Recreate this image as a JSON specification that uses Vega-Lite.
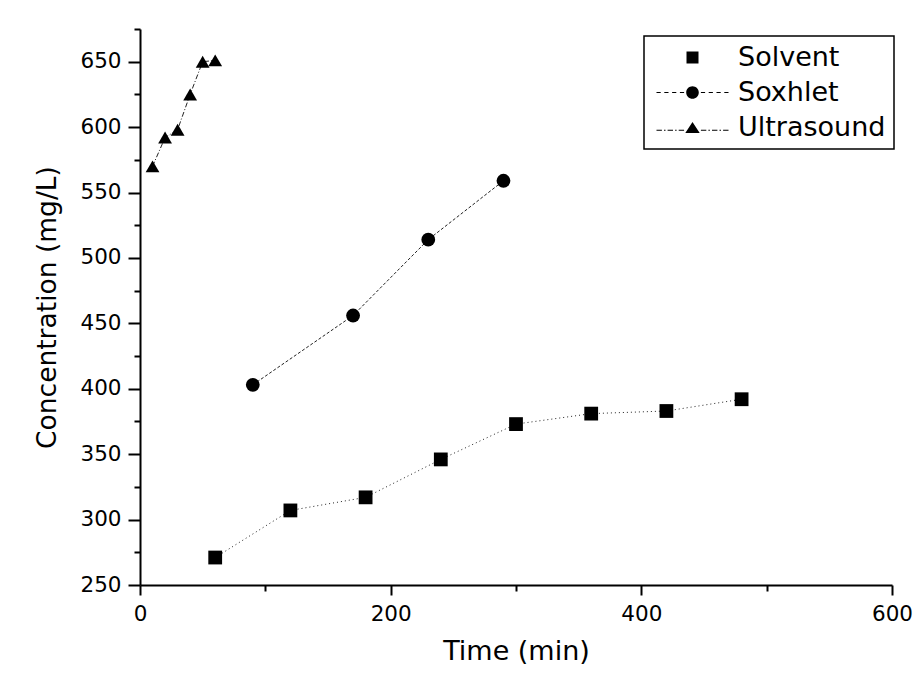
{
  "$schema": "https://vega.github.io/schema/vega-lite/v6.json",
  "width": 752,
  "height": 556,
  "autosize": {"type": "none"},
  "padding": {"left": 140, "top": 29, "right": 22, "bottom": 92},
  "background": "white",
  "config": {
    "view": {"stroke": null},
    "font": "DejaVu Sans",
    "legend": {"strokeWidth": 1.5},
    "axis": {
      "grid": false,
      "domainColor": "black",
      "domainWidth": 2,
      "tickColor": "black",
      "tickWidth": 2,
      "labelColor": "black",
      "titleColor": "black",
      "titleFontWeight": "normal",
      "labelFont": "DejaVu Sans",
      "titleFont": "DejaVu Sans",
      "labelFlush": false,
      "labelOverlap": false,
      "labelBound": false
    }
  },
  "data": {
    "values": [
      {"time": 60, "conc": 271, "method": "Solvent"},
      {"time": 120, "conc": 307, "method": "Solvent"},
      {"time": 180, "conc": 317, "method": "Solvent"},
      {"time": 240, "conc": 346, "method": "Solvent"},
      {"time": 300, "conc": 373, "method": "Solvent"},
      {"time": 360, "conc": 381, "method": "Solvent"},
      {"time": 420, "conc": 383, "method": "Solvent"},
      {"time": 480, "conc": 392, "method": "Solvent"},
      {"time": 90, "conc": 403, "method": "Soxhlet"},
      {"time": 170, "conc": 456, "method": "Soxhlet"},
      {"time": 230, "conc": 514, "method": "Soxhlet"},
      {"time": 290, "conc": 559, "method": "Soxhlet"},
      {"time": 10, "conc": 570, "method": "Ultrasound"},
      {"time": 20, "conc": 592, "method": "Ultrasound"},
      {"time": 30, "conc": 598, "method": "Ultrasound"},
      {"time": 40, "conc": 625, "method": "Ultrasound"},
      {"time": 50, "conc": 650, "method": "Ultrasound"},
      {"time": 60, "conc": 651, "method": "Ultrasound"}
    ]
  },
  "layer": [
    {
      "mark": {"type": "line", "color": "#222222", "strokeWidth": 1},
      "encoding": {
        "x": {
          "field": "time", "type": "quantitative",
          "scale": {"domain": [0, 600], "nice": false, "zero": false},
          "axis": {
            "orient": "bottom",
            "values": [0, 200, 400, 600],
            "tickSize": 10,
            "labelPadding": 8,
            "labelFontSize": 21.5,
            "title": "Time (min)",
            "titleFontSize": 27,
            "titlePadding": 14
          }
        },
        "y": {
          "field": "conc", "type": "quantitative",
          "scale": {"domain": [250, 675], "nice": false, "zero": false},
          "axis": {
            "orient": "left",
            "values": [250, 300, 350, 400, 450, 500, 550, 600, 650],
            "tickSize": 12,
            "labelPadding": 7,
            "labelFontSize": 21.5,
            "title": "Concentration (mg/L)",
            "titleFontSize": 26.5,
            "titlePadding": 18
          }
        },
        "strokeDash": {
          "field": "method", "type": "nominal",
          "scale": {
            "domain": ["Solvent", "Soxhlet", "Ultrasound"],
            "range": [[1, 3], [3, 2], [5, 2, 1, 2]]
          },
          "legend": null
        }
      }
    },
    {
      "mark": {"type": "point", "filled": true, "color": "black", "opacity": 1},
      "encoding": {
        "x": {"field": "time", "type": "quantitative", "scale": {"domain": [0, 600], "nice": false, "zero": false}, "axis": null},
        "y": {"field": "conc", "type": "quantitative", "scale": {"domain": [250, 675], "nice": false, "zero": false}, "axis": null},
        "shape": {
          "field": "method", "type": "nominal",
          "scale": {"domain": ["Solvent", "Soxhlet", "Ultrasound"], "range": ["square", "circle", "triangle-up"]},
          "legend": null
        },
        "size": {
          "field": "method", "type": "nominal",
          "scale": {"domain": ["Solvent", "Soxhlet", "Ultrasound"], "range": [190, 190, 265]},
          "legend": null
        }
      }
    },
    {
      "mark": {"type": "point", "filled": true, "color": "black", "opacity": 0, "size": 144},
      "encoding": {
        "x": {
          "field": "time", "type": "quantitative",
          "scale": {"domain": [0, 600], "nice": false, "zero": false},
          "axis": {"orient": "bottom", "values": [100, 300, 500], "tickSize": 6, "labels": false, "domain": false, "title": null}
        },
        "y": {
          "field": "conc", "type": "quantitative",
          "scale": {"domain": [250, 675], "nice": false, "zero": false},
          "axis": {"orient": "left", "values": [275, 325, 375, 425, 475, 525, 575, 625, 675], "tickSize": 6, "labels": false, "domain": false, "title": null}
        },
        "shape": {
          "field": "method", "type": "nominal",
          "scale": {
            "domain": ["Solvent", "Soxhlet", "Ultrasound"],
            "range": [
              "M-1,-1H1V1H-1Z",
              "M-1.05,0A1.05,1.05 0 1,1 1.05,0A1.05,1.05 0 1,1 -1.05,0Z M-6,-0.09h0.7v0.18h-0.7Z M-4.7,-0.09h0.7v0.18h-0.7Z M-3.4,-0.09h0.7v0.18h-0.7Z M-2.1,-0.09h0.7v0.18h-0.7Z M1.4,-0.09h0.7v0.18h-0.7Z M2.7,-0.09h0.7v0.18h-0.7Z M4,-0.09h0.7v0.18h-0.7Z M5.3,-0.09h0.7v0.18h-0.7Z",
              "M0,-0.9L-1.2,0.9L1.2,0.9Z M-6,0.37h0.9v0.16h-0.9Z M-4.75,0.37h0.25v0.16h-0.25Z M-4.15,0.37h0.9v0.16h-0.9Z M-2.9,0.37h0.25v0.16h-0.25Z M-2.3,0.37h0.9v0.16h-0.9Z M1.4,0.37h0.9v0.16h-0.9Z M2.65,0.37h0.25v0.16h-0.25Z M3.25,0.37h0.9v0.16h-0.9Z M4.5,0.37h0.25v0.16h-0.25Z M5.1,0.37h0.9v0.16h-0.9Z"
            ]
          },
          "legend": {
            "orient": "none",
            "legendX": 504,
            "legendY": 7,
            "title": null,
            "padding": 8,
            "strokeColor": "black",
            "fillColor": "white",
            "labelFont": "DejaVu Sans",
            "labelFontSize": 27,
            "labelColor": "black",
            "labelLimit": 300,
            "symbolSize": 144,
            "symbolOffset": 27,
            "labelOffset": 32,
            "rowPadding": 7,
            "symbolFillColor": "black",
            "symbolStrokeWidth": 0,
            "symbolOpacity": 1
          }
        }
      }
    }
  ],
  "resolve": {
    "scale": {"x": "independent", "y": "independent", "shape": "independent", "size": "independent"},
    "axis": {"x": "independent", "y": "independent"},
    "legend": {"shape": "independent"}
  }
}
